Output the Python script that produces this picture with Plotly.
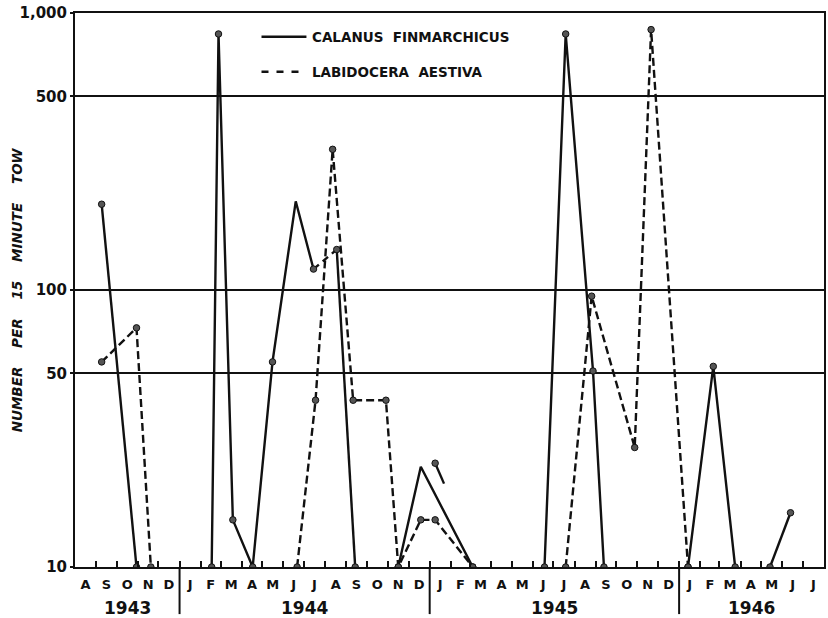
import plotly.graph_objects as go
import pandas as pd

# ---------------- data ----------------
calanus_dates = ["1943-09-09", "1943-10-30", None,
                 "1944-02-17", "1944-02-27", "1944-03-19", "1944-04-17", "1944-05-16",
                 "1944-06-19", "1944-07-15", None,
                 "1944-08-18", "1944-09-14", None,
                 "1944-11-16", "1944-12-19", "1945-03-05", None,
                 "1945-06-18", "1945-07-19", "1945-08-28", "1945-09-13", None,
                 "1946-01-14", "1946-02-20", "1946-03-24", None,
                 "1946-05-14", "1946-06-13"]
calanus_values = [204, 10, None,
                  10, 840, 14.8, 10, 55,
                  209, 119, None,
                  140, 10, None,
                  10, 23, 10, None,
                  10, 840, 51, 10, None,
                  10, 53, 10, None,
                  10, 15.7]
calanus_dots = [1, 1, 0,
                1, 1, 1, 1, 1,
                0, 1, 0,
                1, 1, 0,
                1, 0, 1, 0,
                1, 1, 1, 1, 0,
                1, 1, 1, 0,
                1, 1]
# short broken link (drawn dashed) and a loose stub of the solid curve
calanus_link_dates = ["1944-07-15", "1944-08-18"]
calanus_link_values = [119, 140]
calanus_stub_dates = ["1945-01-09", "1945-01-22"]
calanus_stub_values = [23.7, 20]

labidocera_dates = ["1943-09-09", "1943-10-30", "1943-11-20", None,
                    "1944-06-21", "1944-07-18", "1944-08-12", "1944-09-11", "1944-10-29",
                    "1944-11-16", "1944-12-19", "1945-01-09", "1945-03-05", None,
                    "1945-07-19", "1945-08-26", "1945-10-28", "1945-11-21", "1946-01-14"]
labidocera_values = [55, 73, 10, None,
                     10, 40, 322, 40, 40,
                     10, 14.8, 14.8, 10, None,
                     10, 95, 27, 871, 10]

month_labels = ["A", "S", "O", "N", "D",
                "J", "F", "M", "A", "M", "J", "J", "A", "S", "O", "N", "D",
                "J", "F", "M", "A", "M", "J", "J", "A", "S", "O", "N", "D",
                "J", "F", "M", "A", "M", "J", "J"]
year_labels = ["1943", "1944", "1945", "1946"]
y_tickvals = [10, 50, 100, 500, 1000]
y_ticktext = ["10", "50", "100", "500", "1,000"]
series_names = ["CALANUS  FINMARCHICUS", "LABIDOCERA  AESTIVA"]
y_title_words = ["NUMBER", "PER", "15", "MINUTE", "TOW"]

x_start, x_end = "1943-08-01", "1946-08-01"

# ---------------- derived axis helpers ----------------
month_starts = pd.date_range(x_start, x_end, freq="MS")
month_centers = month_starts[:-1] + (month_starts[1:] - month_starts[:-1]) / 2
year_bounds = [pd.Timestamp(x_start)] + [pd.Timestamp(f"{y}-01-01") for y in year_labels[1:]] + [pd.Timestamp(x_end)]
year_centers = [year_bounds[i] + (year_bounds[i + 1] - year_bounds[i]) / 2 for i in range(len(year_labels))]

FONT = "DejaVu Sans"
BLACK = "#111111"

fig = go.Figure()

# lines
fig.add_trace(go.Scatter(x=calanus_dates, y=calanus_values, mode="lines",
                         line=dict(color=BLACK, width=2.4), connectgaps=False,
                         showlegend=False, hoverinfo="skip"))
fig.add_trace(go.Scatter(x=calanus_link_dates, y=calanus_link_values, mode="lines",
                         line=dict(color=BLACK, width=2.4, dash="7px,5px"),
                         showlegend=False, hoverinfo="skip"))
fig.add_trace(go.Scatter(x=calanus_stub_dates, y=calanus_stub_values, mode="lines",
                         line=dict(color=BLACK, width=2.4),
                         showlegend=False, hoverinfo="skip"))
fig.add_trace(go.Scatter(x=labidocera_dates, y=labidocera_values, mode="lines",
                         line=dict(color=BLACK, width=2.4, dash="8px,4px"), connectgaps=False,
                         showlegend=False, hoverinfo="skip"))

# dots
cd = [d for d, v, k in zip(calanus_dates, calanus_values, calanus_dots) if k and v is not None]
cv = [v for d, v, k in zip(calanus_dates, calanus_values, calanus_dots) if k and v is not None]
cd += calanus_stub_dates[:1]
cv += calanus_stub_values[:1]
ld = [d for d in labidocera_dates if d is not None]
lv = [v for v in labidocera_values if v is not None]
marker = dict(size=6.5, color="#555555", line=dict(color=BLACK, width=1))
fig.add_trace(go.Scatter(x=cd, y=cv, mode="markers", marker=marker, showlegend=False, hoverinfo="skip"))
fig.add_trace(go.Scatter(x=ld, y=lv, mode="markers", marker=marker, showlegend=False, hoverinfo="skip"))

# invisible trace to carry the month-boundary tick axis
fig.add_trace(go.Scatter(x=[month_starts[0]], y=[None], xaxis="x2", mode="markers",
                         showlegend=False, hoverinfo="skip"))

fig.update_layout(
    width=828, height=618,
    margin=dict(l=75, r=2, t=13, b=51),
    paper_bgcolor="white", plot_bgcolor="white",
    font=dict(family=FONT, color=BLACK),
    xaxis=dict(type="date", range=[x_start, x_end],
               tickvals=list(month_centers), ticktext=month_labels, ticks="",
               tickfont=dict(size=13, family=FONT, weight="bold"),
               showgrid=False, showline=True, linewidth=2, linecolor=BLACK, mirror=True,
               zeroline=False, ticklabelstandoff=4),
    xaxis2=dict(type="date", range=[x_start, x_end], overlaying="x", matches="x",
                tickvals=list(month_starts), ticks="inside", ticklen=6, tickwidth=1.5,
                tickcolor=BLACK, showticklabels=False, showgrid=False, showline=False,
                zeroline=False),
    yaxis=dict(type="log", range=[1, 3], tickvals=y_tickvals, ticktext=y_ticktext,
               tickfont=dict(size=15, family=FONT, weight="bold"),
               ticks="outside", ticklen=3, tickwidth=1.5, tickcolor=BLACK,
               showgrid=True, gridcolor=BLACK, gridwidth=1.5,
               showline=True, linewidth=2, linecolor=BLACK, mirror=True, zeroline=False),
)

# year separators
for b in year_bounds[1:-1]:
    fig.add_shape(type="line", xref="x", yref="paper", x0=b, x1=b, y0=-0.003, y1=-0.085,
                  line=dict(color=BLACK, width=2))

# year labels
for lab, c in zip(year_labels, year_centers):
    fig.add_annotation(x=c, y=-0.074, xref="x", yref="paper", text=lab, showarrow=False,
                       xanchor="center", yanchor="middle",
                       font=dict(size=17, family=FONT, weight="bold", color=BLACK))

# y-axis title
gap = "\u00a0" * 4
fig.add_annotation(x=-0.077, y=0.5, xref="paper", yref="paper",
                   text=gap.join(y_title_words),
                   textangle=-90, showarrow=False, xanchor="center", yanchor="middle",
                   font=dict(size=13.5, family=FONT, weight="bold", style="italic", color=BLACK))

# legend (drawn manually)
legend_rows = [(0.957, "solid"), (0.894, "7px,8px")]
for (yy, dash), name in zip(legend_rows, series_names):
    fig.add_shape(type="line", xref="paper", yref="paper", x0=0.249, x1=0.309, y0=yy, y1=yy,
                  line=dict(color=BLACK, width=2.4, dash=dash))
    fig.add_annotation(x=0.314, y=yy, xref="paper", yref="paper", text=name.replace(" ", "\u00a0"),
                       showarrow=False, xanchor="left", yanchor="middle",
                       font=dict(size=13.5, family=FONT, weight="bold", color=BLACK))

fig.write_html("out.html")
